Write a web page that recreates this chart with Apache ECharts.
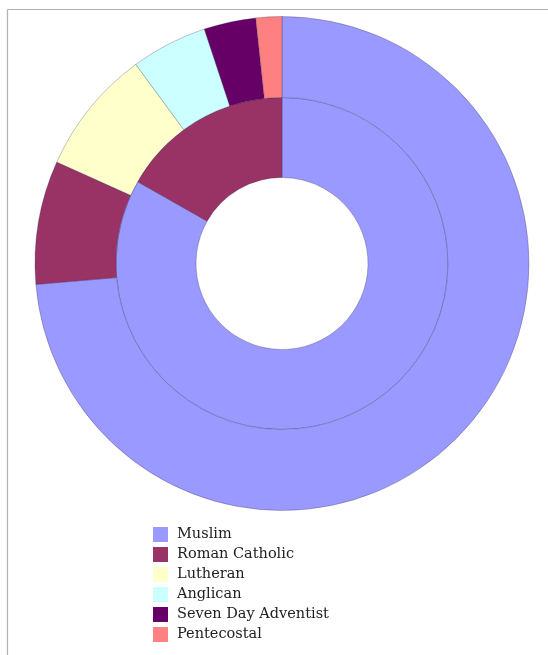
<!DOCTYPE html>
<html>
<head>
<meta charset="utf-8">
<script src="https://cdn.jsdelivr.net/npm/echarts@6/dist/echarts.min.js"></script>
<style>
html,body{margin:0;padding:0;background:#fff;}
#chart{width:548px;height:655px;}
</style>
</head>
<body>
<div id="chart"></div>
<script>
const categories = ['Muslim', 'Roman Catholic', 'Lutheran', 'Anglican', 'Seven Day Adventist', 'Pentecostal'];
const colors = ['#9999ff', '#993366', '#ffffcc', '#ccffff', '#660066', '#ff8080'];
const outerValues = [73.8, 8.1, 8.2, 5.0, 3.4, 1.7];
const innerValues = [83.2, 16.8];

const chart = echarts.init(document.getElementById('chart'), null, {renderer: 'canvas'});

function toData(vals) {
  return vals.map((v, i) => ({ name: categories[i], value: v, itemStyle: { color: colors[i] } }));
}

const common = {
  type: 'pie',
  center: [282, 263.5],
  startAngle: 90,
  clockwise: true,
  label: { show: false },
  labelLine: { show: false },
  emphasis: { disabled: true },
  animation: false,
  silent: true,
  itemStyle: { borderColor: 'rgba(40,40,80,0.4)', borderWidth: 0.7 }
};

chart.setOption({
  animation: false,
  color: colors,
  legend: {
    orient: 'vertical',
    left: 153,
    top: 527,
    height: 125,
    padding: 0,
    itemWidth: 15,
    itemHeight: 15,
    itemGap: 5,
    icon: 'rect',
    selectedMode: false,
    itemStyle: { borderWidth: 0 },
    data: categories,
    textStyle: { fontFamily: 'DejaVu Serif', fontSize: 14.5, lineHeight: 15, color: '#222', padding: [0, 0, 0, 4] }
  },
  graphic: [
    { type: 'line', shape: { x1: 7.5, y1: 9.5, x2: 548, y2: 9.5 }, style: { stroke: '#b0b0b0', lineWidth: 1.2 }, silent: true },
    { type: 'line', shape: { x1: 7.5, y1: 9.5, x2: 7.5, y2: 655 }, style: { stroke: '#b0b0b0', lineWidth: 1.2 }, silent: true }
  ],
  series: [
    Object.assign({}, common, { name: 'Inner', radius: [86, 166], data: toData(innerValues) }),
    Object.assign({}, common, { name: 'Outer', radius: [166, 247], data: toData(outerValues) })
  ]
});
</script>
</body>
</html>
